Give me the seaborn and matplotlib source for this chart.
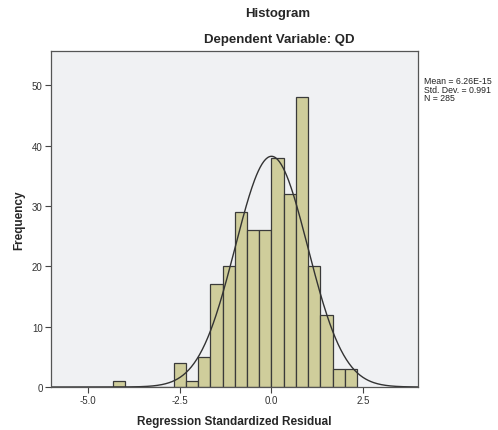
import numpy as np
import pandas as pd
import seaborn as sns
import matplotlib
matplotlib.use("Agg")
import matplotlib.pyplot as plt

# histogram counts per bin (bin width 1/3, left edge of first bin -13/3)
bin_left = [-13, -12, -11, -10, -9, -8, -7, -6, -5, -4, -3, -2, -1, 0, 1, 2, 3, 4, 5, 6]
counts = [1, 0, 0, 0, 0, 4, 1, 5, 17, 20, 29, 26, 26, 38, 32, 48, 20, 12, 3, 3]
mean_val = 6.26e-15
std_val = 0.991
n_obs = 285
x_ticks = [-5.0, -2.5, 0.0, 2.5]
y_ticks = [0, 10, 20, 30, 40, 50]

sns.set_style("white")
plt.rcParams['font.family'] = ['Liberation Sans', 'DejaVu Sans']

bw = 1 / 3
df = pd.DataFrame({'resid': (np.array(bin_left) + 0.5) * bw, 'count': counts})

fig = plt.figure(figsize=(4.98, 4.31), dpi=100)
ax = fig.add_axes([51 / 498, 1 - 388 / 431, (418 - 51) / 498, (388 - 52) / 431])
ax.set_facecolor('#f0f1f3')

sns.histplot(data=df, x='resid', weights='count', binwidth=bw,
             binrange=(bin_left[0] * bw, (bin_left[-1] + 1) * bw), ax=ax,
             color='#cfcd9b', edgecolor='#3a3a3a', linewidth=0.9, alpha=1)

# normal curve scaled to counts
xs = np.linspace(-6.0, 4.0, 400)
ys = n_obs * bw * np.exp(-0.5 * ((xs - mean_val) / std_val) ** 2) / (std_val * np.sqrt(2 * np.pi))
ax.plot(xs, ys, color='#333333', lw=1.0)

ax.set_xlim(-6.02, 4.0)
ax.set_ylim(0, 55.7)
ax.set_xticks(x_ticks)
ax.set_xticklabels([f"{t:.1f}" for t in x_ticks])
ax.set_yticks(y_ticks)
ax.tick_params(axis='both', bottom=True, left=True, direction='out', length=4,
               width=0.8, color='#444444', labelsize=7, labelcolor='#333333', pad=2)
for s in ax.spines.values():
    s.set_color('#555555')
    s.set_linewidth(0.9)

ax.set_xlabel('Regression Standardized Residual', fontsize=8.5, fontweight='bold', labelpad=7)
ax.set_ylabel('Frequency', fontsize=8.5, fontweight='bold', labelpad=5)

fig.text(278 / 498, 1 - 14 / 431, 'Histogram', ha='center', va='center',
         fontsize=9.5, fontweight='bold')
fig.text(279 / 498, 1 - 40 / 431, 'Dependent Variable: QD', ha='center', va='center',
         fontsize=9.5, fontweight='bold')
fig.text(424 / 498, 1 - 77 / 431,
         f"Mean = 6.26E-15\nStd. Dev. = {std_val}\nN = {n_obs}",
         ha='left', va='top', fontsize=6.3, linespacing=0.95, color='#222222')

fig.savefig('out.png', dpi=100)
